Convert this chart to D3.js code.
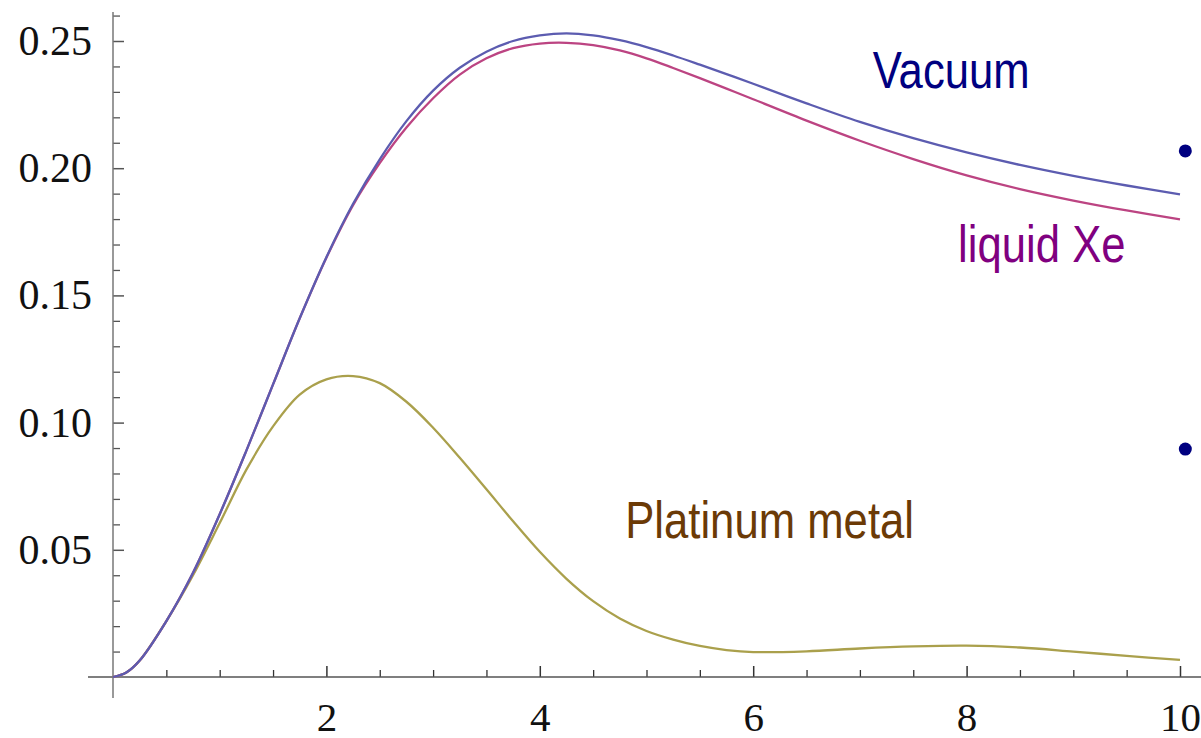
<!DOCTYPE html>
<meta charset="utf-8">
<script src="https://d3js.org/d3.v7.min.js"></script>
<style>
  body { margin: 0; background: #fff; }
</style>
<div id="my_dataviz"></div>
<script>

  var xs = [0, 0.125, 0.25, 0.5, 0.75, 1, 1.25, 1.5, 1.75, 2, 2.25, 2.5, 2.75, 3, 3.25, 3.5, 3.75,
            4, 4.25, 4.5, 4.75, 5, 5.25, 5.5, 5.75, 6, 6.5, 7, 7.5, 8, 8.5, 9, 9.5, 10];

  var vacuum = [0, 0.0018, 0.0065, 0.022, 0.041, 0.064, 0.089, 0.115, 0.141, 0.165, 0.186, 0.2035, 0.2185,
                0.2305, 0.2395, 0.2458, 0.2500, 0.2522, 0.2530, 0.2522, 0.2503, 0.2476, 0.2443,
                0.2407, 0.2370, 0.2332, 0.2255, 0.2182, 0.2118, 0.2062, 0.2013, 0.1970, 0.1932, 0.1897];

  var liquidXe = [0, 0.0018, 0.0065, 0.022, 0.041, 0.064, 0.089, 0.115, 0.141, 0.1648, 0.1855, 0.2020, 0.2160,
                  0.2275, 0.2368, 0.2432, 0.2472, 0.2490, 0.2493, 0.2484, 0.2463, 0.2432, 0.2394,
                  0.2354, 0.2313, 0.2271, 0.2187, 0.2108, 0.2036, 0.1972, 0.1918, 0.1873, 0.1834, 0.1799];

  var platinum = [0, 0.0018, 0.0065, 0.022, 0.040, 0.0605, 0.0815, 0.0985, 0.1110, 0.1170, 0.1183, 0.1155, 0.1082,
                  0.0980, 0.0862, 0.0738, 0.0612, 0.0492, 0.0386, 0.0298, 0.0230, 0.0181, 0.0147,
                  0.0122, 0.0106, 0.0098, 0.0101, 0.0112, 0.0120, 0.0123, 0.0116, 0.0100, 0.0083, 0.0067];

  var seriesNames  = ["Vacuum", "liquid Xe", "Platinum metal"];
  var seriesColors = ["#5c5cb0", "#bc4482", "#aaa04c"];
  var labelColors  = ["#000080", "#800080", "#6b3a06"];

  // label anchors in data units (left, baseline)
  var labelX = [7.12, 7.92, 4.80];
  var labelY = [0.2315, 0.163, 0.0546];

  // the two stray dots on the right
  var dotX = [10.05, 10.05];
  var dotY = [0.2068, 0.0896];

  var xMajor = [2, 4, 6, 8, 10];
  var yMajor = [0.05, 0.10, 0.15, 0.20, 0.25];

  var W = 1201, H = 738;

  var svg = d3.select("#my_dataviz")
    .append("svg")
      .attr("width", W)
      .attr("height", H);

  var x = d3.scaleLinear().domain([0, 10]).range([113, 1180]);
  var y = d3.scaleLinear().domain([0, 0.25]).range([677, 41]);

  // minor ticks
  var xMinor = d3.range(0.5, 10.01, 0.5).filter(function(d) { return xMajor.indexOf(d) < 0; });
  var yMinor = d3.range(1, 27).map(function(i) { return i / 100; })
                 .filter(function(d) { return Math.abs(d * 20 - Math.round(d * 20)) > 1e-6; });

  svg.append("g")
    .attr("transform", "translate(0," + y(0) + ")")
    .call(d3.axisBottom(x).tickValues(xMinor).tickSize(-7).tickSizeOuter(0).tickFormat(""))
    .call(function(g) { g.select(".domain").remove(); })
    .selectAll("line").attr("stroke", "#333").attr("stroke-width", 1.3);

  svg.append("g")
    .attr("transform", "translate(" + x(0) + ",0)")
    .call(d3.axisLeft(y).tickValues(yMinor).tickSize(-7).tickSizeOuter(0).tickFormat(""))
    .call(function(g) { g.select(".domain").remove(); })
    .selectAll("line").attr("stroke", "#555").attr("stroke-width", 1.3);

  // major ticks + labels
  var xAxis = svg.append("g")
    .attr("transform", "translate(0," + y(0) + ")")
    .call(d3.axisBottom(x).tickValues(xMajor).tickSize(-11).tickSizeOuter(0).tickPadding(25)
      .tickFormat(d3.format("d")));
  xAxis.select(".domain").remove();
  xAxis.selectAll("line").attr("stroke", "#333").attr("stroke-width", 1.5);
  xAxis.selectAll("text")
    .style("font-family", "'Liberation Serif', 'Times New Roman', serif")
    .style("font-size", "41px")
    .attr("fill", "#111");

  var yAxis = svg.append("g")
    .attr("transform", "translate(" + x(0) + ",0)")
    .call(d3.axisLeft(y).tickValues(yMajor).tickSize(-11).tickSizeOuter(0).tickPadding(21)
      .tickFormat(d3.format(".2f")));
  yAxis.select(".domain").remove();
  yAxis.selectAll("line").attr("stroke", "#555").attr("stroke-width", 1.5);
  yAxis.selectAll("text")
    .style("font-family", "'Liberation Serif', 'Times New Roman', serif")
    .style("font-size", "42px")
    .attr("fill", "#111");

  // axis lines, running past the origin like the original
  svg.append("line")
    .attr("x1", 88).attr("x2", W)
    .attr("y1", y(0)).attr("y2", y(0))
    .attr("stroke", "#555").attr("stroke-width", 1.5);
  svg.append("line")
    .attr("x1", x(0)).attr("x2", x(0))
    .attr("y1", 12).attr("y2", 698)
    .attr("stroke", "#777").attr("stroke-width", 1.5);

  // curves
  var allSeries = [vacuum, liquidXe, platinum];
  var line = d3.line()
    .x(function(d) { return x(d[0]); })
    .y(function(d) { return y(d[1]); })
    .curve(d3.curveCatmullRom.alpha(0.5));

  [2, 1, 0].forEach(function(i) {
    var pts = xs.map(function(v, j) { return [v, allSeries[i][j]]; });
    svg.append("path")
      .datum(pts)
      .attr("fill", "none")
      .attr("stroke", seriesColors[i])
      .attr("stroke-width", 2.3)
      .attr("d", line);
  });

  // labels (condensed sans, squeezed horizontally)
  svg.selectAll(".lbl")
    .data(seriesNames)
    .enter()
    .append("text")
      .attr("class", "lbl")
      .attr("transform", function(d, i) {
        return "translate(" + x(labelX[i]) + "," + y(labelY[i]) + ") scale(0.84,1)";
      })
      .attr("fill", function(d, i) { return labelColors[i]; })
      .style("font-family", "'Liberation Sans', Arial, sans-serif")
      .style("font-size", "52px")
      .text(function(d) { return d; });

  // dots
  svg.selectAll(".dot")
    .data(dotX)
    .enter()
    .append("circle")
      .attr("cx", function(d) { return x(d); })
      .attr("cy", function(d, i) { return y(dotY[i]); })
      .attr("r", 6.5)
      .attr("fill", "#000080");

</script>
